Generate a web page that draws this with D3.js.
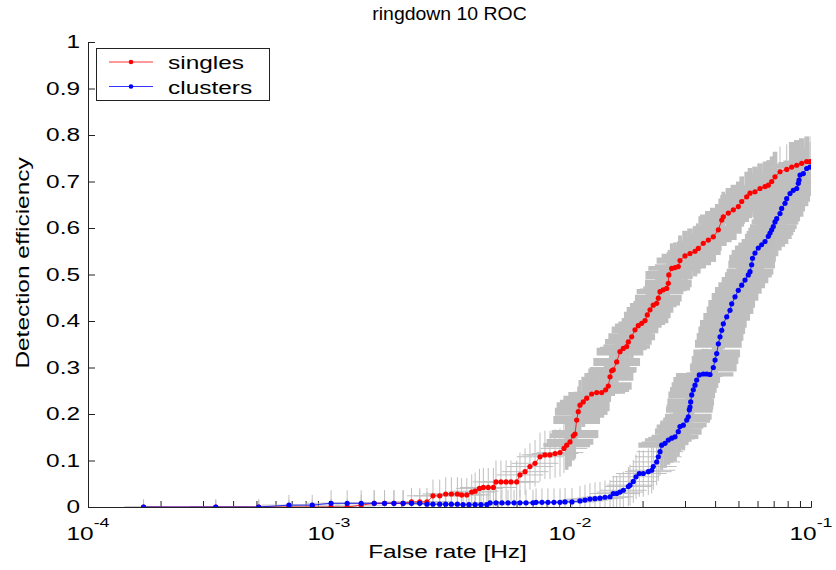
<!DOCTYPE html>
<html>
<head>
<meta charset="utf-8">
<script src="https://cdn.jsdelivr.net/npm/d3@7/dist/d3.min.js"></script>
<style>
  body { margin: 0; background: #fff; }
  text { font-family: "Liberation Sans", Arial, Helvetica, sans-serif; fill: #000; }
</style>
</head>
<body>
<div id="chart"></div>
<script>
// rows: [false rate (Hz), efficiency, efficiency error, rate error factor - 1]
const singles = [
  [1.70e-4, 0, .016, .2], [3.39e-4, 0, .016, .28], [5.11e-4, 0, .016, .3], [6.82e-4, 0, .016, .3],
  [8.52e-4, 0, .016, .3], [1.02e-3, 0, .018, .28], [1.19e-3, 0, .018, .28], [1.36e-3, .004, .022, .28],
  [1.54e-3, .008, .028, .28], [1.70e-3, .008, .028, .28], [1.86e-3, .008, .028, .28], [2.03e-3, .008, .028, .28],
  [2.20e-3, .011, .03, .28], [2.38e-3, .011, .03, .28], [2.55e-3, .011, .03, .28], [2.70e-3, .024, .035, .28],
  [2.88e-3, .024, .035, .28], [3.05e-3, .028, .036, .25], [3.22e-3, .028, .036, .25], [3.41e-3, .028, .036, .25],
  [3.55e-3, .026, .036, .25], [3.73e-3, .026, .036, .25], [3.91e-3, .032, .038, .25], [4.04e-3, .034, .04, .25],
  [4.21e-3, .040, .042, .25], [4.37e-3, .042, .042, .25], [4.58e-3, .042, .042, .25], [4.81e-3, .042, .042, .25],
  [4.93e-3, .054, .046, .25], [5.17e-3, .054, .046, .25], [5.43e-3, .054, .046, .25], [5.69e-3, .054, .046, .25],
  [6.01e-3, .054, .046, .25], [6.20e-3, .069, .048, .25], [6.51e-3, .076, .05, .25], [6.82e-3, .087, .05, .25],
  [7.16e-3, .094, .05, .25], [7.51e-3, .108, .052, .25], [7.87e-3, .112, .052, .25], [8.26e-3, .112, .052, .25],
  [8.67e-3, .115, .052, .25], [9.09e-3, .117, .052, .25], [9.44e-3, .126, .053, .25], [9.69e-3, .133, .053, .25],
  [1.000e-2, .140, .053, .25], [1.032e-2, .153, .053, .25], [1.049e-2, .157, .053, .25], [1.066e-2, .187, .054, .25],
  [1.082e-2, .205, .054, .25], [1.100e-2, .219, .054, .25], [1.135e-2, .226, .054, .25], [1.173e-2, .234, .054, .25],
  [1.230e-2, .243, .054, .25], [1.291e-2, .246, .054, .25], [1.354e-2, .246, .054, .25], [1.406e-2, .252, .054, .25],
  [1.442e-2, .260, .054, .25], [1.466e-2, .280, .054, .25], [1.489e-2, .293, .054, .25], [1.512e-2, .295, .054, .25],
  [1.562e-2, .312, .054, .25], [1.612e-2, .334, .054, .25], [1.664e-2, .341, .054, .25], [1.719e-2, .345, .054, .25],
  [1.746e-2, .355, .054, .25], [1.803e-2, .366, .054, .25], [1.861e-2, .381, .054, .25], [1.920e-2, .390, .054, .25],
  [1.984e-2, .395, .054, .25], [2.048e-2, .401, .054, .25], [2.093e-2, .413, .054, .25], [2.148e-2, .424, .054, .25],
  [2.216e-2, .434, .054, .25], [2.289e-2, .438, .054, .25], [2.325e-2, .449, .054, .25], [2.363e-2, .463, .054, .25],
  [2.438e-2, .467, .054, .25], [2.519e-2, .470, .054, .25], [2.558e-2, .481, .054, .25], [2.570e-2, .499, .054, .25],
  [2.642e-2, .513, .054, .25], [2.727e-2, .515, .054, .25], [2.814e-2, .517, .054, .25], [2.860e-2, .530, .054, .25],
  [3.000e-2, .540, .054, .25], [3.147e-2, .545, .054, .25], [3.301e-2, .550, .054, .25], [3.407e-2, .556, .054, .25],
  [3.573e-2, .567, .054, .25], [3.749e-2, .574, .054, .25], [3.932e-2, .581, .054, .25], [4.126e-2, .596, .054, .25],
  [4.262e-2, .617, .054, .25], [4.327e-2, .624, .054, .25], [4.539e-2, .632, .054, .25], [4.761e-2, .639, .054, .25],
  [4.993e-2, .646, .054, .25], [5.158e-2, .657, .054, .25], [5.410e-2, .667, .054, .25], [5.583e-2, .675, .054, .25],
  [5.856e-2, .678, .054, .25], [6.143e-2, .685, .054, .25], [6.443e-2, .689, .054, .25], [6.650e-2, .692, .054, .25],
  [6.869e-2, .700, .054, .25], [7.090e-2, .710, .054, .25], [7.437e-2, .721, .054, .25], [7.929e-2, .726, .054, .25],
  [8.317e-2, .731, .054, .25], [8.724e-2, .735, .054, .25], [9.150e-2, .739, .054, .25], [9.598e-2, .743, .054, .25],
  [9.906e-2, .743, .054, .25]
];

const clusters = [
  [1.70e-4, 0, .016, .2], [3.39e-4, 0, .016, .28], [5.11e-4, 0, .016, .3], [6.82e-4, .004, .022, .3],
  [8.52e-4, .004, .022, .3], [1.02e-3, .008, .028, .28], [1.19e-3, .008, .028, .28], [1.36e-3, .008, .028, .28],
  [1.54e-3, .008, .028, .28], [1.70e-3, .008, .028, .28], [1.86e-3, .008, .028, .28], [2.03e-3, .008, .028, .28],
  [2.20e-3, .008, .028, .28], [2.38e-3, .008, .028, .28], [2.55e-3, .006, .026, .28], [2.70e-3, .006, .026, .28],
  [2.88e-3, .006, .026, .28], [3.05e-3, .006, .026, .25], [3.22e-3, .006, .026, .25], [3.41e-3, .006, .026, .25],
  [3.60e-3, .005, .025, .25], [3.81e-3, .005, .025, .25], [4.04e-3, .005, .025, .25], [4.27e-3, .005, .025, .25],
  [4.52e-3, .005, .025, .25], [4.66e-3, .009, .028, .25], [4.93e-3, .009, .028, .25], [5.22e-3, .009, .028, .25],
  [5.53e-3, .009, .028, .25], [5.86e-3, .009, .028, .25], [6.20e-3, .009, .028, .25], [6.57e-3, .009, .028, .25],
  [7.02e-3, .009, .028, .25], [7.23e-3, .010, .03, .25], [7.65e-3, .010, .03, .25], [8.10e-3, .010, .03, .25],
  [8.58e-3, .010, .03, .25], [9.09e-3, .010, .03, .25], [9.54e-3, .011, .03, .25], [1.019e-2, .011, .03, .25],
  [1.100e-2, .013, .032, .25], [1.154e-2, .015, .033, .25], [1.210e-2, .017, .034, .25], [1.270e-2, .018, .035, .25],
  [1.332e-2, .019, .035, .25], [1.397e-2, .021, .036, .25], [1.466e-2, .022, .036, .25], [1.512e-2, .029, .038, .25],
  [1.562e-2, .029, .038, .25], [1.612e-2, .032, .04, .25], [1.664e-2, .036, .04, .25], [1.746e-2, .044, .042, .25],
  [1.774e-2, .047, .044, .25], [1.831e-2, .055, .046, .25], [1.879e-2, .065, .048, .25], [1.939e-2, .072, .05, .25],
  [2.014e-2, .072, .05, .25], [2.113e-2, .076, .05, .25], [2.183e-2, .079, .05, .25], [2.216e-2, .087, .05, .25],
  [2.289e-2, .097, .05, .25], [2.325e-2, .108, .052, .25], [2.363e-2, .119, .052, .25], [2.402e-2, .133, .053, .25],
  [2.479e-2, .137, .053, .25], [2.558e-2, .144, .053, .25], [2.642e-2, .148, .053, .25], [2.727e-2, .151, .053, .25],
  [2.814e-2, .162, .053, .25], [2.860e-2, .173, .054, .25], [2.952e-2, .176, .054, .25], [3.050e-2, .187, .054, .25],
  [3.097e-2, .194, .054, .25], [3.126e-2, .209, .054, .25], [3.147e-2, .215, .054, .25], [3.168e-2, .226, .054, .25],
  [3.199e-2, .241, .054, .25], [3.248e-2, .252, .054, .25], [3.301e-2, .262, .054, .25], [3.355e-2, .273, .054, .25],
  [3.439e-2, .284, .054, .25], [3.573e-2, .286, .054, .25], [3.692e-2, .286, .054, .25], [3.810e-2, .285, .054, .25],
  [3.932e-2, .300, .054, .25], [3.998e-2, .316, .054, .25], [4.062e-2, .330, .054, .25], [4.126e-2, .351, .054, .25],
  [4.193e-2, .366, .054, .25], [4.262e-2, .380, .054, .25], [4.327e-2, .394, .054, .25], [4.469e-2, .409, .054, .25],
  [4.612e-2, .423, .054, .25], [4.688e-2, .437, .054, .25], [4.839e-2, .452, .054, .25], [4.993e-2, .466, .054, .25],
  [5.158e-2, .477, .054, .25], [5.322e-2, .488, .054, .25], [5.493e-2, .499, .054, .25], [5.583e-2, .506, .054, .25],
  [5.673e-2, .521, .054, .25], [5.720e-2, .535, .054, .25], [5.856e-2, .546, .054, .25], [6.043e-2, .557, .054, .25],
  [6.244e-2, .564, .054, .25], [6.443e-2, .571, .054, .25], [6.650e-2, .582, .054, .25], [6.759e-2, .589, .054, .25],
  [6.869e-2, .596, .054, .25], [6.976e-2, .603, .054, .25], [7.090e-2, .613, .054, .25], [7.206e-2, .620, .054, .25],
  [7.437e-2, .631, .054, .25], [7.557e-2, .642, .054, .25], [7.800e-2, .653, .054, .25], [7.929e-2, .663, .054, .25],
  [8.183e-2, .674, .054, .25], [8.445e-2, .681, .054, .25], [8.724e-2, .685, .054, .25], [8.859e-2, .696, .054, .25],
  [8.920e-2, .703, .054, .25], [9.004e-2, .714, .054, .25], [9.292e-2, .717, .054, .25], [9.598e-2, .728, .054, .25],
  [9.906e-2, .731, .054, .25]
];

const seriesNames = ['singles', 'clusters'];
const seriesColors = ['#ff0000', '#0000ff'];
const yTicks = [0, 0.1, 0.2, 0.3, 0.4, 0.5, 0.6, 0.7, 0.8, 0.9, 1];
const xMajor = [1e-4, 1e-3, 1e-2, 1e-1];
const xMajorExp = ['-4', '-3', '-2', '-1'];
const titleText = 'ringdown 10 ROC';
const xLabel = 'False rate [Hz]';
const yLabel = 'Detection efficiency';

const W = 836, H = 570;
const margin = { top: 42, right: 25, bottom: 63, left: 88 };
const sx = 1.32;        // matlab's axis font is wide, stretch along the baseline
const fs = 18.5;
const grey = '#bfbfbf';

const x = d3.scaleLog().domain([1e-4, 1e-1]).range([margin.left, W - margin.right]);
const y = d3.scaleLinear().domain([0, 1]).range([H - margin.bottom, margin.top]);

const svg = d3.select('#chart').append('svg')
  .attr('width', W).attr('height', H);

svg.append('clipPath').attr('id', 'plotClip')
  .append('rect')
    .attr('x', margin.left).attr('y', margin.top)
    .attr('width', W - margin.left - margin.right)
    .attr('height', H - margin.top - margin.bottom);

// axes (inward ticks, no box)
const yAxis = svg.append('g')
  .attr('transform', `translate(${margin.left},0)`)
  .call(d3.axisLeft(y).tickValues(yTicks).tickSize(-7).tickPadding(8).tickFormat(d3.format('')));
const xAxis = svg.append('g')
  .attr('transform', `translate(0,${H - margin.bottom})`)
  .call(d3.axisBottom(x).tickValues(x.ticks()).tickSize(-6).tickFormat(''));

[yAxis, xAxis].forEach(a => {
  a.select('.domain').attr('stroke', '#222');
  a.selectAll('.tick line').attr('stroke', '#222');
});
yAxis.selectAll('.tick text')
  .attr('font-size', fs)
  .attr('x', -8 / sx)
  .attr('transform', `scale(${sx},1)`);

// x tick labels: 10 with superscript exponent
xMajor.forEach((v, i) => {
  const t = svg.append('text')
    .attr('transform', `translate(${x(v)},540) scale(${sx},1)`)
    .attr('text-anchor', 'middle')
    .attr('font-size', fs);
  t.append('tspan').text('10');
  t.append('tspan').attr('dy', -13).attr('font-size', 13.5).text(xMajorExp[i]);
});

// error bars; where the reference's markers crowd together the bars merge into a band,
// so bars there are widened up to their neighbours
const errG = svg.append('g').attr('clip-path', 'url(#plotClip)');
[singles, clusters].forEach(rows => {
  rows.forEach((r, i) => {
    const px = x(r[0]), py = y(r[1]);
    const p = rows[Math.max(i - 1, 0)], n = rows[Math.min(i + 1, rows.length - 1)];
    const prev = i > 0 ? x(p[0]) : px - 20;
    const next = i < rows.length - 1 ? x(n[0]) : px + 20;
    const dense = Math.max(px - prev, next - px) <= 6 && r[1] >= 0.13;
    const vw = dense ? (next - prev) / 2 + 0.5 : 1;
    const hw = dense ? Math.min(Math.max((y(p[1]) - y(n[1])) / 2 + 1, 1), 8) : 1;
    errG.append('line')
      .attr('x1', px).attr('x2', px)
      .attr('y1', y(r[1] - r[2])).attr('y2', y(r[1] + r[2]))
      .attr('stroke', grey).attr('stroke-width', vw);
    errG.append('line')
      .attr('x1', x(r[0] / (1 + r[3]))).attr('x2', x(r[0] * (1 + r[3])))
      .attr('y1', py).attr('y2', py)
      .attr('stroke', grey).attr('stroke-width', hw);
  });
});

// curves with dot markers
const line = d3.line().x(d => x(d[0])).y(d => y(d[1]));
[singles, clusters].forEach((rows, i) => {
  const g = svg.append('g').attr('clip-path', 'url(#plotClip)');
  g.append('path').datum(rows).attr('d', line)
    .attr('fill', 'none').attr('stroke', seriesColors[i]).attr('stroke-width', 0.8);
  g.selectAll('circle').data(rows).join('circle')
    .attr('cx', d => x(d[0])).attr('cy', d => y(d[1])).attr('r', 2.6)
    .attr('fill', seriesColors[i]);
});

// title and axis labels
svg.append('text')
  .attr('transform', `translate(449.5,20) scale(1.08,1)`)
  .attr('text-anchor', 'middle').attr('font-size', 18)
  .text(titleText);
svg.append('text')
  .attr('transform', `translate(447.5,558) scale(${sx},1)`)
  .attr('text-anchor', 'middle').attr('font-size', fs)
  .text(xLabel);
svg.append('text')
  .attr('transform', `translate(29,263) rotate(-90) scale(${sx},1)`)
  .attr('text-anchor', 'middle').attr('font-size', fs)
  .text(yLabel);

// legend
const leg = svg.append('g');
leg.append('rect')
  .attr('x', 96.5).attr('y', 48.5).attr('width', 173).attr('height', 52)
  .attr('fill', '#fff').attr('stroke', '#222').attr('stroke-width', 1);
seriesNames.forEach((name, i) => {
  const ly = 62 + i * 24.5;
  leg.append('line').attr('x1', 109).attr('x2', 153).attr('y1', ly).attr('y2', ly)
    .attr('stroke', seriesColors[i]).attr('stroke-width', 0.8);
  leg.append('circle').attr('cx', 131).attr('cy', ly).attr('r', 2.3).attr('fill', seriesColors[i]);
  leg.append('text')
    .attr('transform', `translate(168,${ly + 7}) scale(${sx},1)`)
    .attr('font-size', fs)
    .text(name);
});
</script>
</body>
</html>
